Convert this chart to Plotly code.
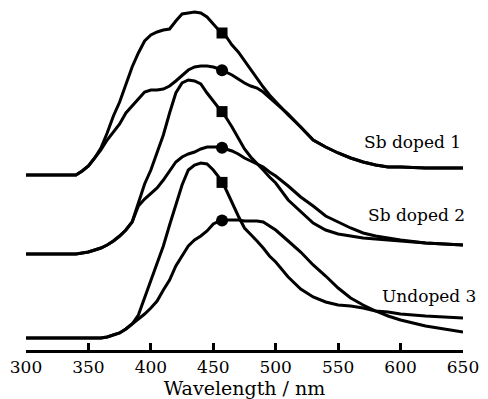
import numpy as np
import plotly.graph_objects as go

# ---- data ----
wavelength = [300, 340, 345, 350, 355, 360, 365, 370, 375, 380, 385, 390, 395, 400, 405,
              410, 415, 420, 425, 430, 435, 440, 445, 450, 455, 460, 465, 470, 475, 480,
              485, 490, 495, 500, 510, 520, 530, 540, 550, 560, 570, 580, 590, 600, 620, 650]

sb1_square = [0, 0, 4, 9, 17, 27, 42, 59, 73, 90, 108, 122, 134, 140, 143, 145, 146, 154, 161, 162,
              163, 162, 158, 151, 144, 139, 130, 123, 114, 105, 97, 88, 80, 73, 60, 48, 35, 28, 22,
              17, 13, 10, 8, 8, 7, 7]
sb1_circle = [0, 0, 4, 9, 17, 25, 35, 43, 51, 62, 69, 76, 83, 85, 85, 86, 89, 94, 100, 105,
              108, 109, 109, 108, 106, 103, 100, 96, 92, 89, 87, 83, 77, 72, 61, 48, 35, 28, 22,
              17, 13, 10, 8, 8, 7, 7]
sb2_square = [0, 0, 1, 2, 4, 6, 9, 13, 18, 24, 32, 51, 70, 84, 102, 119, 141, 161, 171, 174,
              173, 170, 161, 153, 146, 137, 127, 116, 105, 97, 91, 84, 77, 71, 54, 42, 31, 24, 20,
              18, 16, 15, 14, 13, 11, 9]
sb2_circle = [0, 0, 1, 2, 4, 6, 9, 13, 18, 24, 32, 48, 55, 61, 66, 74, 83, 92, 97, 100,
              102, 105, 107, 107, 107, 105, 103, 100, 96, 93, 90, 87, 82, 78, 68, 57, 48, 38, 32,
              26, 21, 18, 16, 14, 11, 9]
und3_square = [0, 0, 0, 0, 0, 0, 1, 3, 5, 9, 14, 23, 40, 56, 74, 92, 113, 133, 153, 168,
               173, 175, 174, 168, 160, 149, 135, 122, 110, 104, 97, 90, 82, 76, 61, 49, 41, 36, 33,
               32, 30, 27, 26, 24, 22, 20]
und3_circle = [0, 0, 0, 0, 0, 0, 1, 3, 5, 9, 14, 19, 24, 30, 37, 48, 58, 72, 82, 92,
               98, 102, 107, 114, 117, 118, 118, 118, 117, 117, 117, 116, 112, 108, 97, 86, 73, 62, 50,
               40, 33, 27, 22, 18, 12, 6]

sample_names = ["Sb doped 1", "Sb doped 2", "Undoped 3"]
offsets = [175, 96, 12]
marker_wavelength = 457
tick_values = [300, 350, 400, 450, 500, 550, 600, 650]

# ---- layout constants ----
label_y = [208, 135, 54]
label_xshift = [0, 4, 15]
FONT = "DejaVu Serif"

pairs = [(sb1_square, sb1_circle), (sb2_square, sb2_circle), (und3_square, und3_circle)]

fig = go.Figure()
wl = np.array(wavelength, dtype=float)
for (sq, ci), off, name in zip(pairs, offsets, sample_names):
    for series, sym, size in ((sq, "square", 11), (ci, "circle", 12)):
        y = np.array(series, dtype=float) + off
        fig.add_trace(go.Scatter(x=wl, y=y, mode="lines",
                                 line=dict(color="black", width=3),
                                 showlegend=False, hoverinfo="skip"))
        my = float(np.interp(marker_wavelength, wl, y))
        fig.add_trace(go.Scatter(x=[marker_wavelength], y=[my], mode="markers",
                                 marker=dict(symbol=sym, size=size, color="black"),
                                 showlegend=False, hoverinfo="skip"))

for name, ly, xs in zip(sample_names, label_y, label_xshift):
    fig.add_annotation(x=wavelength[-1], y=ly, xref="x", yref="y", text=name, showarrow=False,
                       xanchor="right", yanchor="middle", xshift=xs,
                       font=dict(family=FONT, size=17, color="black"))

fig.update_layout(
    width=488, height=399,
    margin=dict(l=25.5, r=24.5, t=0, b=49, autoexpand=False),
    paper_bgcolor="white", plot_bgcolor="white",
    xaxis=dict(range=[300, 650], tickvals=tick_values, showline=True, linewidth=3,
               linecolor="black", ticks="inside", ticklen=7, tickwidth=2.5, tickcolor="black",
               showgrid=False, zeroline=False, automargin=False,
               tickfont=dict(family=FONT, size=17, color="black"),
               title=dict(text="Wavelength / nm", standoff=16,
                          font=dict(family=FONT, size=19, color="black"))),
    yaxis=dict(range=[0, 350], visible=False),
)

fig.write_html("out.html")
